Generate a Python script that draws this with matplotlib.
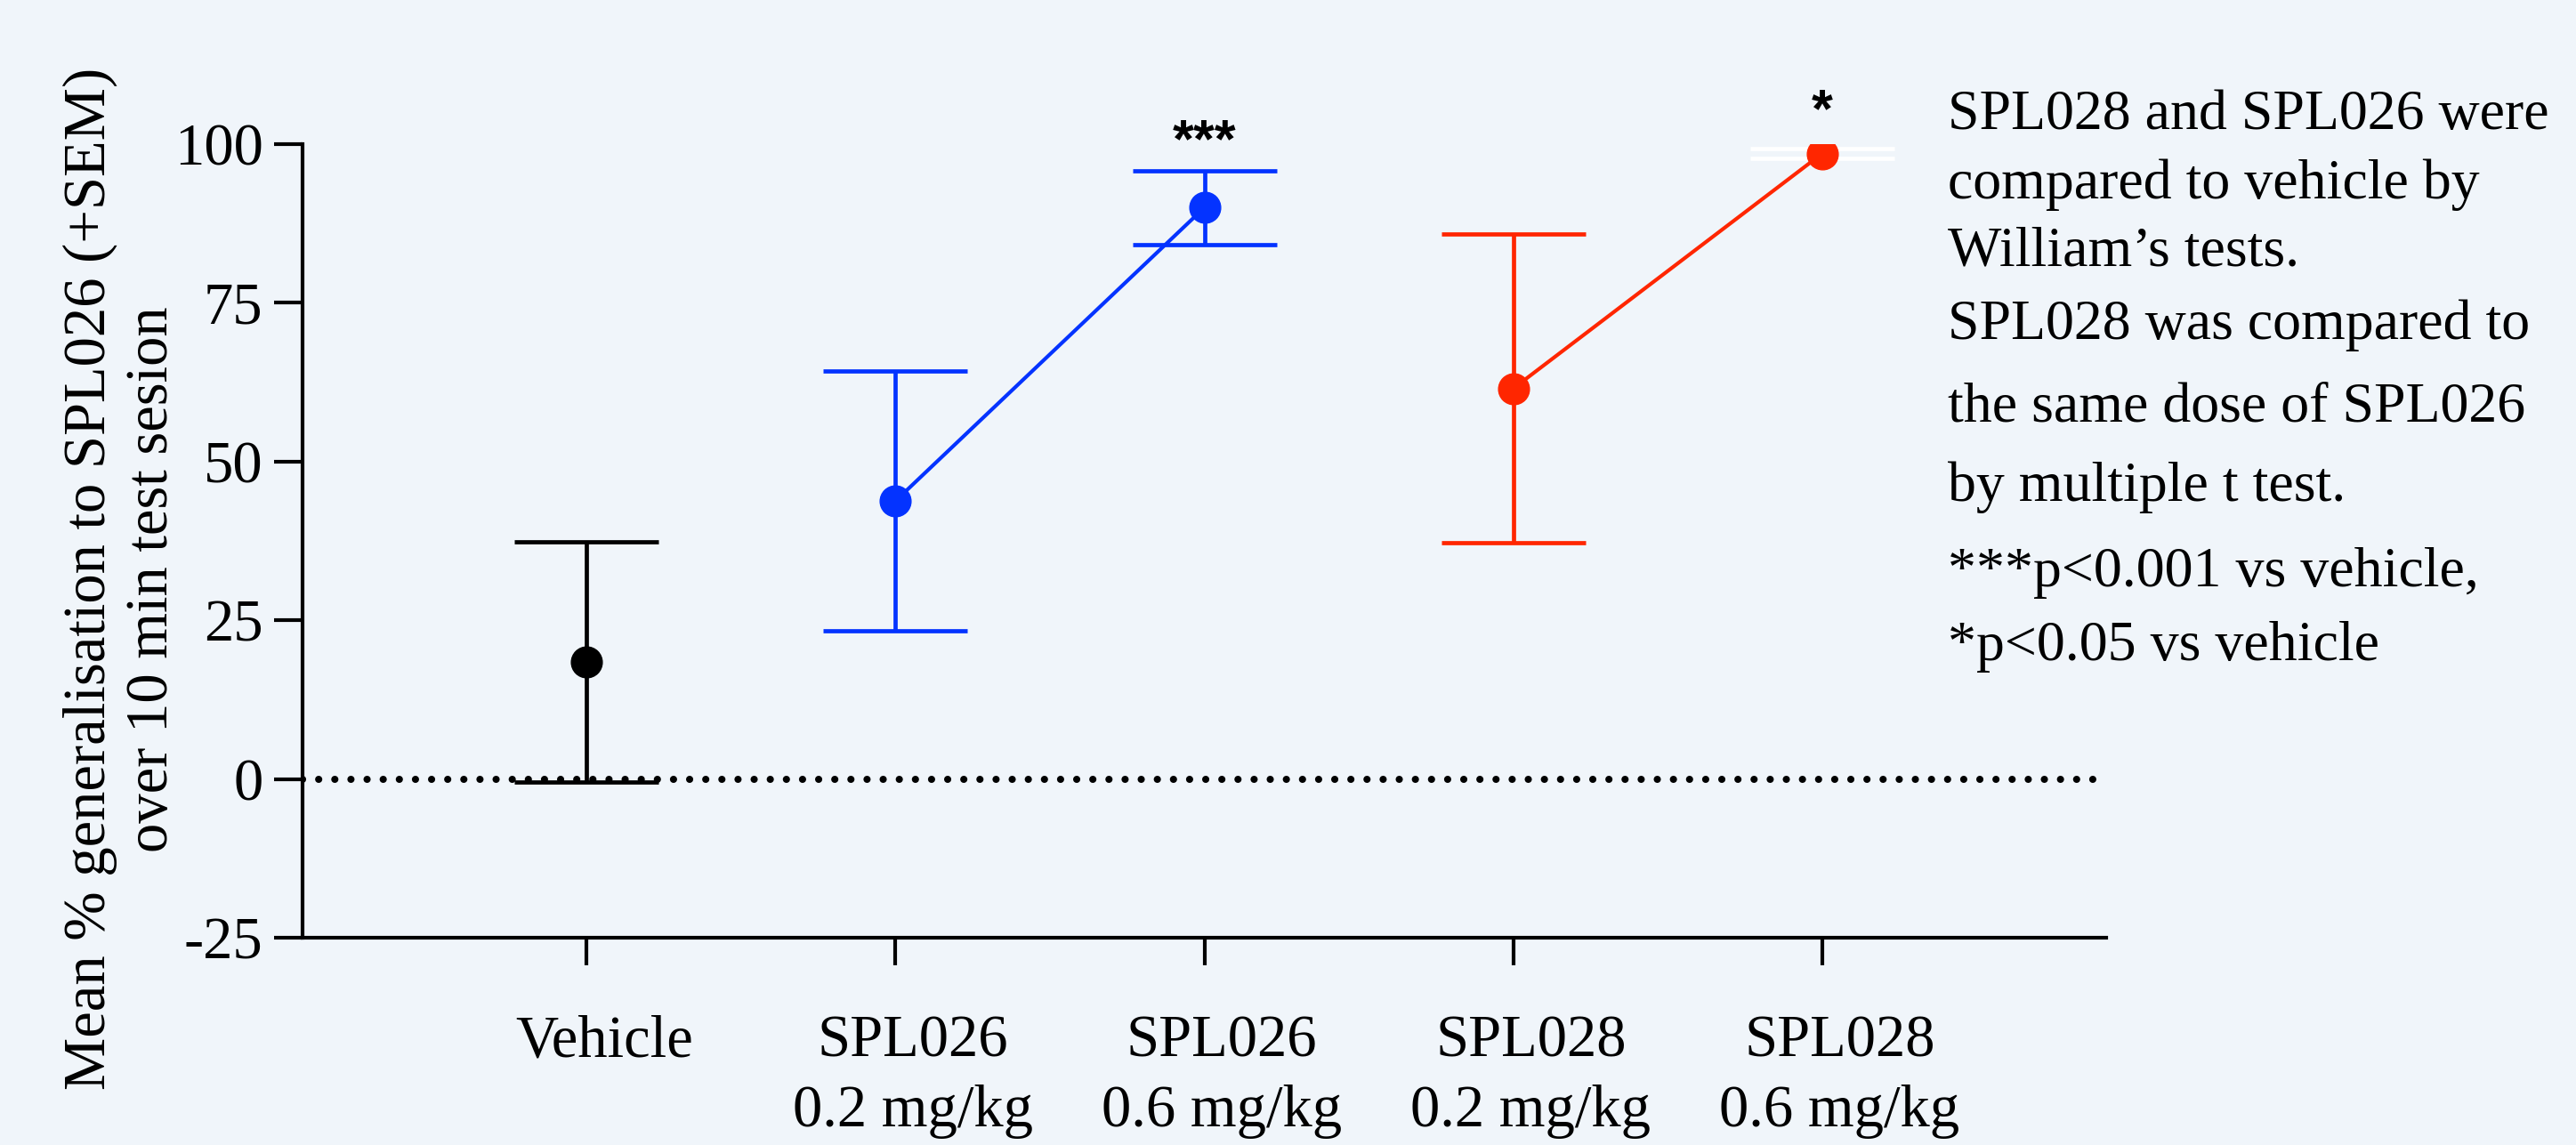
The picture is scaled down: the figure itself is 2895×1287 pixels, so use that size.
import numpy as np
import matplotlib
matplotlib.use('Agg')
import matplotlib.pyplot as plt

# data
categories = ['Vehicle', 'SPL026\n0.2 mg/kg', 'SPL026\n0.6 mg/kg',
              'SPL028\n0.2 mg/kg', 'SPL028\n0.6 mg/kg']
means = [18.4, 43.8, 90.0, 61.5, 98.5]
sem = [18.9, 20.4, 5.8, 24.3, 0.8]
stars = ['', '', '***', '', '*']
yticks = [-25, 0, 25, 50, 75, 100]
note_lines = ['SPL028 and SPL026 were', 'compared to vehicle by',
              'William\u2019s tests.', 'SPL028 was compared to',
              'the same dose of SPL026', 'by multiple t test.',
              '***p<0.001 vs vehicle,', '*p<0.05 vs vehicle']

bg = '#F0F5FA'
blue = '#0433FF'
red = '#FF2600'
colors = ['black', blue, blue, red, red]
err_colors = ['black', blue, blue, red, 'white']

plt.rcParams['font.family'] = ['Liberation Serif', 'DejaVu Serif']

W, H = 2895, 1287
fig = plt.figure(figsize=(W / 100, H / 100), dpi=100, facecolor=bg)
ax = fig.add_axes([340 / W, 1 - 1054 / H, (2367 - 340) / W, (1054 - 162) / H])
ax.set_facecolor(bg)

x = np.arange(len(categories))

# zero reference line
ax.plot([-0.92, 4.92], [0, 0], color='black', lw=5.8,
        linestyle=(0, (0.01, 2.24)), dash_capstyle='round', zorder=1)

# connecting lines between doses
ax.plot(x[1:3], means[1:3], color=blue, lw=3, zorder=2)
ax.plot(x[3:5], means[3:5], color=red, lw=3, zorder=2)

for i in range(len(categories)):
    ax.errorbar(x[i], means[i], yerr=sem[i], fmt='none', ecolor=err_colors[i],
                elinewidth=3.4, capsize=58, capthick=3.4, zorder=3)
    ax.plot(x[i], means[i], 'o', color=colors[i], markersize=25, zorder=4)
    if stars[i]:
        ax.text(x[i], means[i] + sem[i] + (4.4 if i == 2 else 5.6), stars[i],
                ha='center', va='center', fontsize=44, fontweight='bold',
                family='Liberation Sans', clip_on=False)

ax.set_xlim(-0.92, 4.92)
ax.set_ylim(-25, 100)
ax.set_yticks(yticks)
ax.set_yticklabels([str(v) for v in yticks])
# tick marks on the categories, labels (as minor ticks) a little to the right
ax.set_xticks(x)
ax.set_xticklabels([])
ax.set_xticks(x + 0.057, minor=True)
ax.set_xticklabels(categories, minor=True, linespacing=1.38)

for s in ['top', 'right']:
    ax.spines[s].set_visible(False)
for s in ['left', 'bottom']:
    ax.spines[s].set_linewidth(3)

ax.tick_params(axis='y', length=23, width=3, pad=9, labelsize=48)
ax.tick_params(axis='y', which='minor', length=0)
ax.tick_params(axis='x', which='major', length=22, width=3)
ax.tick_params(axis='x', which='minor', length=0, pad=62, labelsize=48)

ax.set_ylabel('Mean % generalisation to SPL026 (+SEM)\nover 10 min test sesion',
              fontsize=48, linespacing=1.2)
ax.yaxis.set_label_coords(-0.068, 0.452)

# notes on the right
baselines = [145, 223, 299, 381, 473, 563, 659, 742]
for line, b in zip(note_lines, baselines):
    fig.text(2189 / W, 1 - b / H, line, fontsize=46, ha='left',
             va='baseline')

fig.savefig('out.png', dpi=100, facecolor=bg)
